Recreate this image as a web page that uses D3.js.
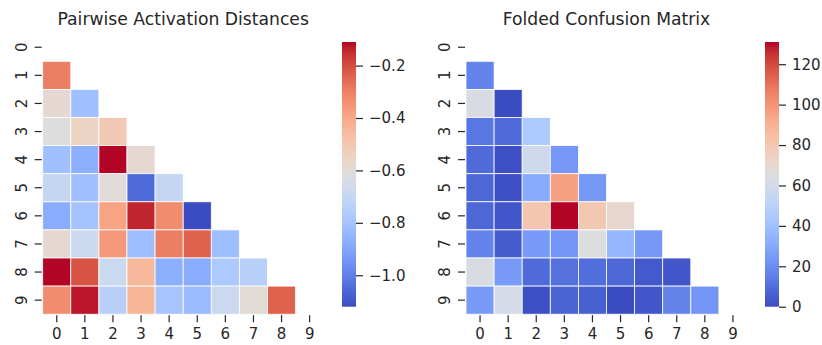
<!DOCTYPE html>
<html>
<head>
<meta charset="utf-8">
<script src="https://cdn.jsdelivr.net/npm/d3@7"></script>
<style>
  html, body { margin: 0; padding: 0; background: #fff; }
  svg text { font-family: "DejaVu Sans", sans-serif; fill: #262626; }
</style>
</head>
<body>
<svg id="chart" width="822" height="345"></svg>
<script>
// Class labels shared by both matrices
const classLabels = ["0", "1", "2", "3", "4", "5", "6", "7", "8", "9"];

// Lower-triangle rows (row i holds columns 0..i-1)
const activationDistances = [
  [],
  [-0.30],
  [-0.585, -0.81],
  [-0.615, -0.55, -0.51],
  [-0.81, -0.87, -0.11, -0.585],
  [-0.70, -0.81, -0.605, -1.05, -0.70],
  [-0.88, -0.80, -0.39, -0.14, -0.33, -1.12],
  [-0.585, -0.68, -0.36, -0.82, -0.30, -0.24, -0.82],
  [-0.11, -0.21, -0.68, -0.45, -0.87, -0.88, -0.775, -0.745],
  [-0.33, -0.125, -0.74, -0.44, -0.79, -0.83, -0.68, -0.595, -0.24]
];

const foldedConfusion = [
  [],
  [17],
  [63, 0],
  [13, 9, 45],
  [9, 1, 58, 24],
  [8, 1, 31, 96, 24],
  [8, 3, 81, 131, 80, 71],
  [17, 5, 25, 23, 65, 36, 24],
  [63, 25, 9, 11, 10, 8, 4, 3],
  [25, 61, 1, 7, 6, 0, 3, 17, 23]
];

const distTicks = [-1.0, -0.8, -0.6, -0.4, -0.2];
const confTicks = [0, 20, 40, 60, 80, 100, 120];

// Diverging "coolwarm" colour ramp (Moreland)
const coolwarmStops = [
  [59,76,192],[68,90,204],[77,104,215],[87,117,225],[98,130,234],[108,142,241],
  [119,154,247],[130,165,251],[141,176,254],[152,185,255],[163,194,255],[174,201,253],
  [184,208,249],[194,213,244],[204,217,238],[213,219,230],[221,221,221],[229,216,209],
  [236,211,197],[241,204,184],[245,196,172],[247,187,159],[247,177,147],[247,166,134],
  [244,154,123],[241,141,111],[236,127,99],[229,112,89],[222,96,77],[213,80,66],
  [203,62,56],[192,40,47],[180,4,38]
];
const coolwarm = d3.scaleLinear()
  .domain(coolwarmStops.map((_, i) => i / (coolwarmStops.length - 1)))
  .range(coolwarmStops.map(c => `rgb(${c[0]},${c[1]},${c[2]})`))
  .interpolate(d3.interpolateRgb)
  .clamp(true);

const svg = d3.select("#chart");
const gridTop = 33.2, gridSize = 281;
const cbTop = 42, cbBottom = 306.7, cbWidth = 14;
const tickFont = "15px";

function drawPanel(opts) {
  const { rows, left, title, cbLeft, ticks, fmt, id } = opts;
  const flat = rows.flat();
  const vmin = d3.min(flat), vmax = d3.max(flat);
  const norm = d3.scaleLinear().domain([vmin, vmax]).range([0, 1]);

  const x = d3.scaleBand().domain(classLabels).range([left, left + gridSize]);
  const y = d3.scaleBand().domain(classLabels).range([gridTop, gridTop + gridSize]);

  const g = svg.append("g");

  // cells
  const cells = [];
  rows.forEach((row, i) => row.forEach((v, j) => cells.push({ r: classLabels[i], c: classLabels[j], v })));
  g.selectAll("rect.cell").data(cells).join("rect")
    .attr("class", "cell")
    .attr("x", d => x(d.c))
    .attr("y", d => y(d.r))
    .attr("width", x.bandwidth())
    .attr("height", y.bandwidth())
    .attr("fill", d => coolwarm(norm(d.v)))
    .attr("stroke", "#fff")
    .attr("stroke-width", 0.8);

  // axes
  const xAxis = d3.axisBottom(x).tickSize(7).tickPadding(6);
  const gx = g.append("g").attr("transform", `translate(0,${gridTop + gridSize + 1})`).call(xAxis);
  gx.select(".domain").remove();
  gx.selectAll(".tick line").attr("stroke", "#262626").attr("stroke-width", 1.2);
  gx.selectAll(".tick text").style("font-size", tickFont).attr("fill", "#262626");

  const yAxis = d3.axisLeft(y).tickSize(7).tickPadding(9);
  const gy = g.append("g").attr("transform", `translate(${left - 1},0)`).call(yAxis);
  gy.select(".domain").remove();
  gy.selectAll(".tick line").attr("stroke", "#262626").attr("stroke-width", 1.2);
  gy.selectAll(".tick text")
    .style("font-size", tickFont)
    .attr("fill", "#262626")
    .attr("x", -20)
    .attr("dy", null)
    .attr("text-anchor", "middle")
    .attr("dominant-baseline", "central")
    .attr("transform", "rotate(-90,-20,0)")
    .attr("y", 0);

  // title
  g.append("text")
    .attr("x", left + gridSize / 2)
    .attr("y", 25)
    .attr("text-anchor", "middle")
    .style("font-size", "17.2px")
    .text(title);

  // colour bar
  const grad = svg.append("defs").append("linearGradient")
    .attr("id", id).attr("x1", 0).attr("y1", 1).attr("x2", 0).attr("y2", 0);
  d3.range(0, 1.0001, 1 / 64).forEach(t => {
    grad.append("stop").attr("offset", t).attr("stop-color", coolwarm(t));
  });
  g.append("rect")
    .attr("x", cbLeft).attr("y", cbTop)
    .attr("width", cbWidth).attr("height", cbBottom - cbTop)
    .attr("fill", `url(#${id})`);

  const cy = d3.scaleLinear().domain([vmin, vmax]).range([cbBottom, cbTop]);
  const cAxis = d3.axisRight(cy).tickValues(ticks).tickFormat(fmt).tickSize(7).tickPadding(6);
  const gc = g.append("g").attr("transform", `translate(${cbLeft + cbWidth},0)`).call(cAxis);
  gc.select(".domain").remove();
  gc.selectAll(".tick line").attr("stroke", "#262626").attr("stroke-width", 1.2);
  gc.selectAll(".tick text").style("font-size", tickFont).attr("fill", "#262626");
}

drawPanel({
  rows: activationDistances,
  left: 42.7,
  title: "Pairwise Activation Distances",
  cbLeft: 342,
  ticks: distTicks,
  fmt: d => d3.format(".1f")(d).replace("-", "\u2212"),
  id: "cbDist"
});

drawPanel({
  rows: foldedConfusion,
  left: 466,
  title: "Folded Confusion Matrix",
  cbLeft: 765,
  ticks: confTicks,
  fmt: d3.format("d"),
  id: "cbConf"
});
</script>
</body>
</html>
